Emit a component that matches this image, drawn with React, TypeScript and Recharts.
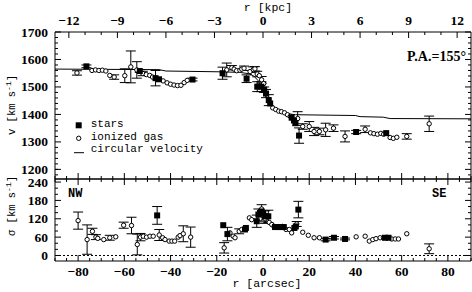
import {
  ComposedChart,
  Scatter,
  ErrorBar,
  XAxis,
  YAxis,
  ReferenceLine,
} from "recharts";

// [r (arcsec), value (km/s), error (km/s, optional)]
type Pt = [number, number, number?];

const gasVel: Pt[] = [
  [-80.5, 1551, 8], [-74, 1560], [-72.5, 1562], [-71, 1560], [-69.5, 1561],
  [-68, 1558], [-66.3, 1542], [-64.4, 1536, 8], [-59.8, 1541, 25],
  [-57.2, 1573, 58], [-54.6, 1562, 30], [-52, 1549, 8], [-50.5, 1545],
  [-49, 1542], [-47.8, 1536], [-43.2, 1522], [-41.5, 1515], [-40, 1510],
  [-38.5, 1507], [-37, 1505], [-35.5, 1506], [-34.1, 1516], [-32.8, 1524],
  [-15.7, 1562, 25], [-13.5, 1570, 8], [-12.5, 1565], [-11.4, 1559],
  [-10, 1561], [-9.2, 1565], [-8.2, 1568, 8], [-5.6, 1556], [-4.2, 1563, 10],
  [-3.5, 1566, 8], [-2.5, 1547, 10], [-1.6, 1541], [-0.6, 1526, 12],
  [0.3, 1512], [4.2, 1424], [5.5, 1418], [6.8, 1412], [8, 1410], [9.3, 1406],
  [10.6, 1399], [11.8, 1393], [15, 1385, 25], [17.2, 1356, 10],
  [20, 1356, 18], [22.1, 1338, 15], [24.4, 1338, 12], [27.1, 1344, 24],
  [30.5, 1350, 12], [35.5, 1320, 20], [44.2, 1346, 12], [46.5, 1333],
  [48, 1330], [49.5, 1328], [51, 1331], [52.2, 1328], [55, 1316],
  [56.4, 1313], [57.9, 1317], [62.2, 1320, 10], [71.9, 1366, 28],
];

const starVel: Pt[] = [
  [-76.4, 1575, 5], [-53.3, 1558, 5], [-46.5, 1532, 28], [-45, 1528],
  [-30.5, 1527, 5], [-17.5, 1550, 22], [-7.1, 1530, 14], [-2.5, 1501, 18],
  [-0.7, 1501, 18], [0.5, 1490, 10], [1.3, 1476, 15], [2.5, 1452, 20],
  [3.1, 1440], [12.4, 1388], [13.4, 1378], [14, 1368], [15.6, 1323, 28],
  [40.3, 1336, 6], [53.3, 1332],
];

const circVel: Pt[] = [
  [-90, 1565], [-45, 1563], [-42, 1558], [-18, 1555], [-10, 1553],
  [-6, 1548], [-4, 1540], [-2, 1522], [-1, 1505], [0, 1486], [1, 1468],
  [2, 1452], [3, 1438], [4.5, 1424], [7, 1412], [10, 1403], [14, 1399],
  [40, 1396], [42, 1392], [52, 1390], [55, 1385], [90, 1384],
];

const gasSig: Pt[] = [
  [-80, 114, 28], [-76.1, 52, 48], [-73.8, 79, 10], [-72.3, 60, 8],
  [-71.5, 56], [-68.9, 52], [-66.3, 58, 8], [-63.7, 61], [-60.3, 99, 10],
  [-56.9, 98, 27], [-54.4, 36, 34], [-53, 60, 12], [-51.8, 63], [-50.4, 60],
  [-48.9, 63], [-47.5, 63], [-44.9, 67, 18], [-43.4, 58], [-42.4, 52],
  [-40.6, 47], [-39.4, 47], [-38.2, 47], [-36.7, 60], [-35.9, 65],
  [-34.5, 71, 26], [-31.3, 60, 33], [-16.8, 25, 17], [-14.3, 74],
  [-12.9, 63], [-12.1, 58], [-10.3, 79, 8], [-9.2, 85], [-5.9, 123],
  [-4.9, 117], [-1.3, 120], [-0.6, 152], [0.9, 120, 15], [2.7, 108],
  [3.8, 101], [4.8, 95], [8.5, 95], [10, 85], [11.4, 85], [12.4, 74],
  [14.6, 103, 8], [17.2, 76], [19.6, 66], [22.1, 58], [24.4, 58],
  [40.3, 61], [44.2, 63], [46, 47], [47.5, 52], [48.9, 55], [50.7, 58],
  [52.1, 58], [55.7, 54], [57.2, 54], [58.6, 54], [62.2, 71], [71.9, 22, 16],
];

const starSig: Pt[] = [
  [-45.8, 131, 29], [-17.2, 99], [-15.4, 70, 22], [-7.8, 85], [-7.4, 90],
  [-2.7, 112, 20], [-2, 134, 18], [-1.3, 139], [-0.6, 144, 22], [0.1, 139],
  [0.9, 128, 18], [2.3, 128, 20], [5.2, 93], [6.5, 93], [7.8, 93], [9, 93],
  [13.6, 90], [14.2, 95], [15.3, 150, 27], [27.1, 52, 4], [30.7, 58, 4],
  [35.5, 54, 3], [52.8, 58], [54.3, 58],
];

const arcsecTicks = [-80, -60, -40, -20, 0, 20, 40, 60, 80];
const kpcTicks = [-12, -9, -6, -3, 0, 3, 6, 9, 12];
const velTicks = [1200, 1300, 1400, 1500, 1600, 1700];
const sigTicks = [0, 60, 120, 180, 240];

const ARCSEC_PER_KPC = 7.0;
const R_DOMAIN: [number, number] = [-90, 90];
const V_DOMAIN: [number, number] = [1165, 1700];
const S_DOMAIN: [number, number] = [-18, 250];

// frame edges, in each chart's own pixels
const LEFT = 55;
const RIGHT = 471;
const TOP1 = 32;
const BOT1 = 179;
const CHART2_TOP = 168; // page y of the lower chart
const TOP2 = 179 - CHART2_TOP;
const BOT2 = 261 - CHART2_TOP;

const INK = "#000";
const TICK_FONT = { fontFamily: "Liberation Serif", fontSize: 13.5, fontWeight: 700, fill: INK };
const TITLE_FONT = { fontFamily: "Liberation Mono", fontSize: 11.5, fill: INK };
const VTITLE_FONT = { fontFamily: "Liberation Mono", fontSize: 10.5, fill: INK };
const LEGEND_FONT = { fontFamily: "Liberation Mono", fontSize: 11, fill: INK };
const NOTE_FONT = { fontFamily: "Liberation Mono", fontSize: 12, fontWeight: 700, fill: INK };

const steps = (from: number, to: number, step: number) =>
  Array.from({ length: Math.round((to - from) / step) + 1 }, (_, i) => from + i * step);

const rows = (pts: Pt[]) => pts.map(([x, y, err]) => ({ x, y, err }));
const fmtNum = (n: number) => (n < 0 ? `\u2212${-n}` : `${n}`);
const fmtKpc = (v: number) => fmtNum(Math.round(v / ARCSEC_PER_KPC));

const Square = (p: any) => (
  <rect x={p.cx - 3} y={p.cy - 3} width={6} height={6} fill={INK} />
);
const Ring = (p: any) => (
  <circle cx={p.cx} cy={p.cy} r={2.2} fill="#fff" stroke={INK} strokeWidth={1} />
);
const NoDot = () => <g />;

// inward tick marks (long for major, short for minor) plus optional label
function edgeTick(
  side: "left" | "right" | "top" | "bottom",
  edge: number,
  major: number[],
  fmt?: (v: number) => string,
) {
  return (p: any) => {
    const v = p.payload.value;
    const isMajor = major.some((m) => Math.abs(m - v) < 1e-6);
    const len = isMajor ? 6 : 3;
    let line;
    let label = null;
    if (side === "left" || side === "right") {
      const dir = side === "left" ? 1 : -1;
      line = <line x1={edge} x2={edge + dir * len} y1={p.y} y2={p.y} stroke={INK} />;
      if (fmt && isMajor)
        label = <text x={edge - 7} y={p.y + 4.5} textAnchor="end" style={TICK_FONT}>{fmt(v)}</text>;
    } else {
      const dir = side === "top" ? 1 : -1;
      line = <line x1={p.x} x2={p.x} y1={edge} y2={edge + dir * len} stroke={INK} />;
      if (fmt && isMajor)
        label = (
          <text x={p.x} y={side === "top" ? edge - 7 : edge + 14.5} textAnchor="middle" style={TICK_FONT}>
            {fmt(v)}
          </text>
        );
    }
    return <g>{line}{label}</g>;
  };
}

const kpcAll = steps(-12, 12, 1).map((k) => k * ARCSEC_PER_KPC);
const kpcMajor = kpcTicks.map((k) => k * ARCSEC_PER_KPC);
const arcAll = steps(-90, 90, 5);
const velAll = steps(1180, 1700, 20);
const sigAll = steps(0, 240, 20);

// the lowest velocity label sits right on the panel seam; it is repeated on top
const velToY = (v: number) =>
  TOP1 + ((V_DOMAIN[1] - v) / (V_DOMAIN[1] - V_DOMAIN[0])) * (BOT1 - TOP1);

const errBar = <ErrorBar dataKey="err" direction="y" width={5} stroke={INK} strokeWidth={1} />;

export default function App() {
  return (
    <div style={{ position: "absolute", left: 0, top: 0, width: 472, height: 292, background: "#fff" }}>
      {/* lower panel: velocity dispersion */}
      <div style={{ position: "absolute", left: 0, top: CHART2_TOP }}>
        <ComposedChart width={472} height={292 - CHART2_TOP} margin={{ top: TOP2 - 1, right: 0, bottom: 0, left: 0 }}>
          <XAxis xAxisId="r" dataKey="x" orientation="bottom" height={292 - 261} type="number"
            domain={R_DOMAIN} allowDataOverflow ticks={arcAll} interval={0} tickLine={false}
            stroke={INK} tick={edgeTick("bottom", BOT2, arcsecTicks, fmtNum)} />
          <XAxis xAxisId="rT" dataKey="x" orientation="top" height={1} type="number"
            domain={R_DOMAIN} allowDataOverflow ticks={arcAll} interval={0} tickLine={false}
            stroke={INK} tick={edgeTick("top", TOP2, arcsecTicks)} />
          <YAxis yAxisId="s" dataKey="y" width={LEFT} type="number" domain={S_DOMAIN}
            allowDataOverflow ticks={sigAll} interval={0} tickLine={false} stroke={INK}
            tick={edgeTick("left", LEFT, sigTicks, fmtNum)} />
          <YAxis yAxisId="sR" dataKey="y" orientation="right" width={1} type="number"
            domain={S_DOMAIN} allowDataOverflow ticks={sigAll} interval={0} tickLine={false}
            stroke={INK} tick={edgeTick("right", RIGHT, sigTicks)} />
          <ReferenceLine y={0} xAxisId="r" yAxisId="s" stroke={INK} strokeDasharray="2 2" />
          {/* binds the top and right axes so that they get drawn */}
          <Scatter data={rows(gasSig)} xAxisId="rT" yAxisId="sR" shape={NoDot}
            isAnimationActive={false} legendType="none" />
          <Scatter data={rows(gasSig)} xAxisId="r" yAxisId="s" shape={Ring} isAnimationActive={false}>
            {errBar}
          </Scatter>
          <Scatter data={rows(starSig)} xAxisId="r" yAxisId="s" shape={Square} isAnimationActive={false}>
            {errBar}
          </Scatter>
        </ComposedChart>
      </div>

      {/* upper panel: line-of-sight velocity */}
      <div style={{ position: "absolute", left: 0, top: 0 }}>
        <ComposedChart width={472} height={BOT1 + 1} margin={{ top: 0, right: 0, bottom: 0, left: 0 }}>
          <XAxis xAxisId="kpc" dataKey="x" orientation="top" height={TOP1} type="number"
            domain={R_DOMAIN} allowDataOverflow ticks={kpcAll} interval={0} tickLine={false}
            stroke={INK} tick={edgeTick("top", TOP1, kpcMajor, fmtKpc)} />
          <XAxis xAxisId="r" dataKey="x" orientation="bottom" height={1} type="number"
            domain={R_DOMAIN} allowDataOverflow ticks={arcAll} interval={0} tickLine={false}
            stroke={INK} tick={edgeTick("bottom", BOT1, arcsecTicks)} />
          <YAxis yAxisId="v" dataKey="y" width={LEFT} type="number" domain={V_DOMAIN}
            allowDataOverflow ticks={velAll} interval={0} tickLine={false} stroke={INK}
            tick={edgeTick("left", LEFT, velTicks.slice(1), fmtNum)} />
          <YAxis yAxisId="vR" dataKey="y" orientation="right" width={1} type="number"
            domain={V_DOMAIN} allowDataOverflow ticks={velAll} interval={0} tickLine={false}
            stroke={INK} tick={edgeTick("right", RIGHT, velTicks)} />
          {/* binds the kpc and right axes so that they get drawn */}
          <Scatter data={rows(circVel)} xAxisId="kpc" yAxisId="vR" shape={NoDot}
            isAnimationActive={false} legendType="none" />
          <Scatter data={rows(circVel)} xAxisId="r" yAxisId="v" shape={NoDot}
            line={{ stroke: INK, strokeWidth: 1 }} lineType="joint" isAnimationActive={false} />
          <Scatter data={rows(gasVel)} xAxisId="r" yAxisId="v" shape={Ring} isAnimationActive={false}>
            {errBar}
          </Scatter>
          <Scatter data={rows(starVel)} xAxisId="r" yAxisId="v" shape={Square} isAnimationActive={false}>
            {errBar}
          </Scatter>
        </ComposedChart>
      </div>

      {/* titles, legend and annotations */}
      <svg width={472} height={292} style={{ position: "absolute", left: 0, top: 0, pointerEvents: "none" }}>
        <line x1={LEFT} x2={LEFT + 6} y1={velToY(velTicks[0])} y2={velToY(velTicks[0])} stroke={INK} />
        <text x={LEFT - 7} y={velToY(velTicks[0]) + 4.5} textAnchor="end" style={TICK_FONT}>
          {fmtNum(velTicks[0])}
        </text>
        <text x={268} y={11} textAnchor="middle" style={TITLE_FONT}>r [kpc]</text>
        <text x={267} y={287} textAnchor="middle" style={TITLE_FONT}>r [arcsec]</text>
        <text x={15} y={105} transform="rotate(-90 15 105)" textAnchor="middle" style={VTITLE_FONT}>
          v [km s<tspan dy={-4} fontSize={8}>-1</tspan><tspan dy={4}>]</tspan>
        </text>
        <text x={15} y={206} transform="rotate(-90 15 206)" textAnchor="middle" style={VTITLE_FONT}>
          {"\u03c3 [km s"}<tspan dy={-4} fontSize={8}>-1</tspan><tspan dy={4}>]</tspan>
        </text>
        <rect x={75.7} y={122.3} width={6} height={6} fill={INK} />
        <text x={90.7} y={126.5} style={LEGEND_FONT}>stars</text>
        <circle cx={78.7} cy={138.3} r={2.2} fill="#fff" stroke={INK} />
        <text x={90.7} y={139.5} style={LEGEND_FONT}>ionized gas</text>
        <line x1={74} x2={84} y1={152.7} y2={152.7} stroke={INK} />
        <text x={90.7} y={152} style={LEGEND_FONT}>circular velocity</text>
        <text x={466} y={61} textAnchor="end"
          style={{ fontFamily: "Liberation Serif", fontSize: 14, fontWeight: 700, fill: INK }}>
          P.A.=155°
        </text>
        <text x={68} y={196.5} style={NOTE_FONT}>NW</text>
        <text x={432} y={196.5} style={NOTE_FONT}>SE</text>
      </svg>
    </div>
  );
}
